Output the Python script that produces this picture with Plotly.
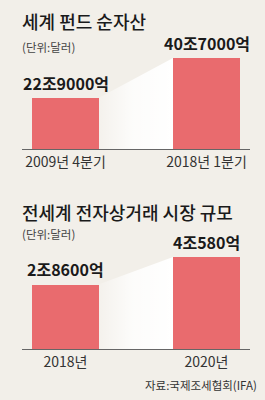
import plotly.graph_objects as go

# ---- data ----
top_title = "세계 펀드 순자산"
top_categories = ["2009년 4분기", "2018년 1분기"]
top_values = [22.9, 40.7]            # 조 달러
top_labels = ["22조9000억", "40조7000억"]

bot_title = "전세계 전자상거래 시장 규모"
bot_categories = ["2018년", "2020년"]
bot_values = [2.86, 4.058]           # 조 달러
bot_labels = ["2조8600억", "4조580억"]

unit_text = "(단위:달러)"
source_text = "자료:국제조세협회(IFA)"

# ---- style ----
W, H = 265, 400
BG = "#f2efe9"
BAR = "#e96b6e"
FONT = "Noto Sans CJK KR"
positions = [0, 1]
bar_w = 0.475

def py(px):
    return 1 - px / H

fig = go.Figure()

def add_panel(xa, ya, cats, vals, labels):
    xref = "x" if xa == "xaxis" else "x2"
    yref = "y" if ya == "yaxis" else "y2"
    # gradient connector between bars
    x_l = positions[0] + bar_w / 2
    x_r = positions[1] - bar_w / 2
    fig.add_trace(go.Scatter(
        x=[x_l, x_r, x_r, x_l, x_l], y=[vals[0], vals[1], 0, 0, vals[0]],
        xaxis=xref, yaxis=yref, mode="lines", line=dict(width=0),
        fill="toself",
        fillgradient=dict(type="horizontal",
                          colorscale=[[0, "rgba(255,255,255,0.15)"], [0.45, "rgba(255,255,255,0.8)"],
                                      [1, "rgba(255,255,255,1)"]]),
        hoverinfo="skip", showlegend=False))
    fig.add_trace(go.Bar(x=positions, y=vals, width=bar_w, marker=dict(color=BAR, line=dict(width=0)),
                         xaxis=xref, yaxis=yref, showlegend=False, hoverinfo="skip"))
    for p, v, t in zip(positions, vals, labels):
        fig.add_annotation(x=p, y=v, xref=xref, yref=yref, text=f"<b>{t}</b>", showarrow=False,
                           yanchor="bottom", yshift=1,
                           font=dict(family=FONT, size=16, color="#1a1a1a"))

add_panel("xaxis", "yaxis", top_categories, top_values, top_labels)
add_panel("xaxis2", "yaxis2", bot_categories, bot_values, bot_labels)

x_dom = [22 / W, 250 / W]
x_rng = [-0.3085, 1.3085]
axis_common = dict(range=x_rng, domain=x_dom, tickvals=positions, showgrid=False, zeroline=False,
                   showline=True, linecolor="#666", linewidth=1, ticks="",
                   tickfont=dict(family=FONT, size=14, color="#333"), fixedrange=True)

# top: baseline at px 149
top_scale = 91 / 40.7
top_max = 50
top_dom = [py(149), py(149 - top_max * top_scale)]
bot_scale = 92 / 4.058
bot_max = 5
bot_dom = [py(349), py(349 - bot_max * bot_scale)]

fig.update_layout(
    width=W, height=H, margin=dict(l=0, r=0, t=0, b=0),
    paper_bgcolor=BG, plot_bgcolor="rgba(0,0,0,0)", bargap=0,
    xaxis=dict(axis_common, ticktext=top_categories, anchor="y"),
    yaxis=dict(range=[0, top_max], domain=top_dom, visible=False, fixedrange=True),
    xaxis2=dict(axis_common, ticktext=bot_categories, anchor="y2"),
    yaxis2=dict(range=[0, bot_max], domain=bot_dom, visible=False, fixedrange=True),
    font=dict(family=FONT),
)

TITLE_SIZE = 18
fig.add_annotation(xref="paper", yref="paper", x=20 / W, y=py(21), xanchor="left", yanchor="middle",
                   text=top_title, showarrow=False,
                   font=dict(family=FONT, size=TITLE_SIZE, color="#1a1a1a", weight=500))
fig.add_annotation(xref="paper", yref="paper", x=20 / W, y=py(47), xanchor="left", yanchor="middle",
                   text=unit_text, showarrow=False, font=dict(family=FONT, size=11.5, color="#444"))
fig.add_annotation(xref="paper", yref="paper", x=20 / W, y=py(212), xanchor="left", yanchor="middle",
                   text=bot_title, showarrow=False,
                   font=dict(family=FONT, size=TITLE_SIZE, color="#1a1a1a", weight=500))
fig.add_annotation(xref="paper", yref="paper", x=20 / W, y=py(234), xanchor="left", yanchor="middle",
                   text=unit_text, showarrow=False, font=dict(family=FONT, size=11.5, color="#444"))
fig.add_annotation(xref="paper", yref="paper", x=259 / W, y=py(385), xanchor="right", yanchor="middle",
                   text=source_text, showarrow=False, font=dict(family=FONT, size=11.5, color="#333"))

fig.write_html("out.html", config={"displayModeBar": False})
